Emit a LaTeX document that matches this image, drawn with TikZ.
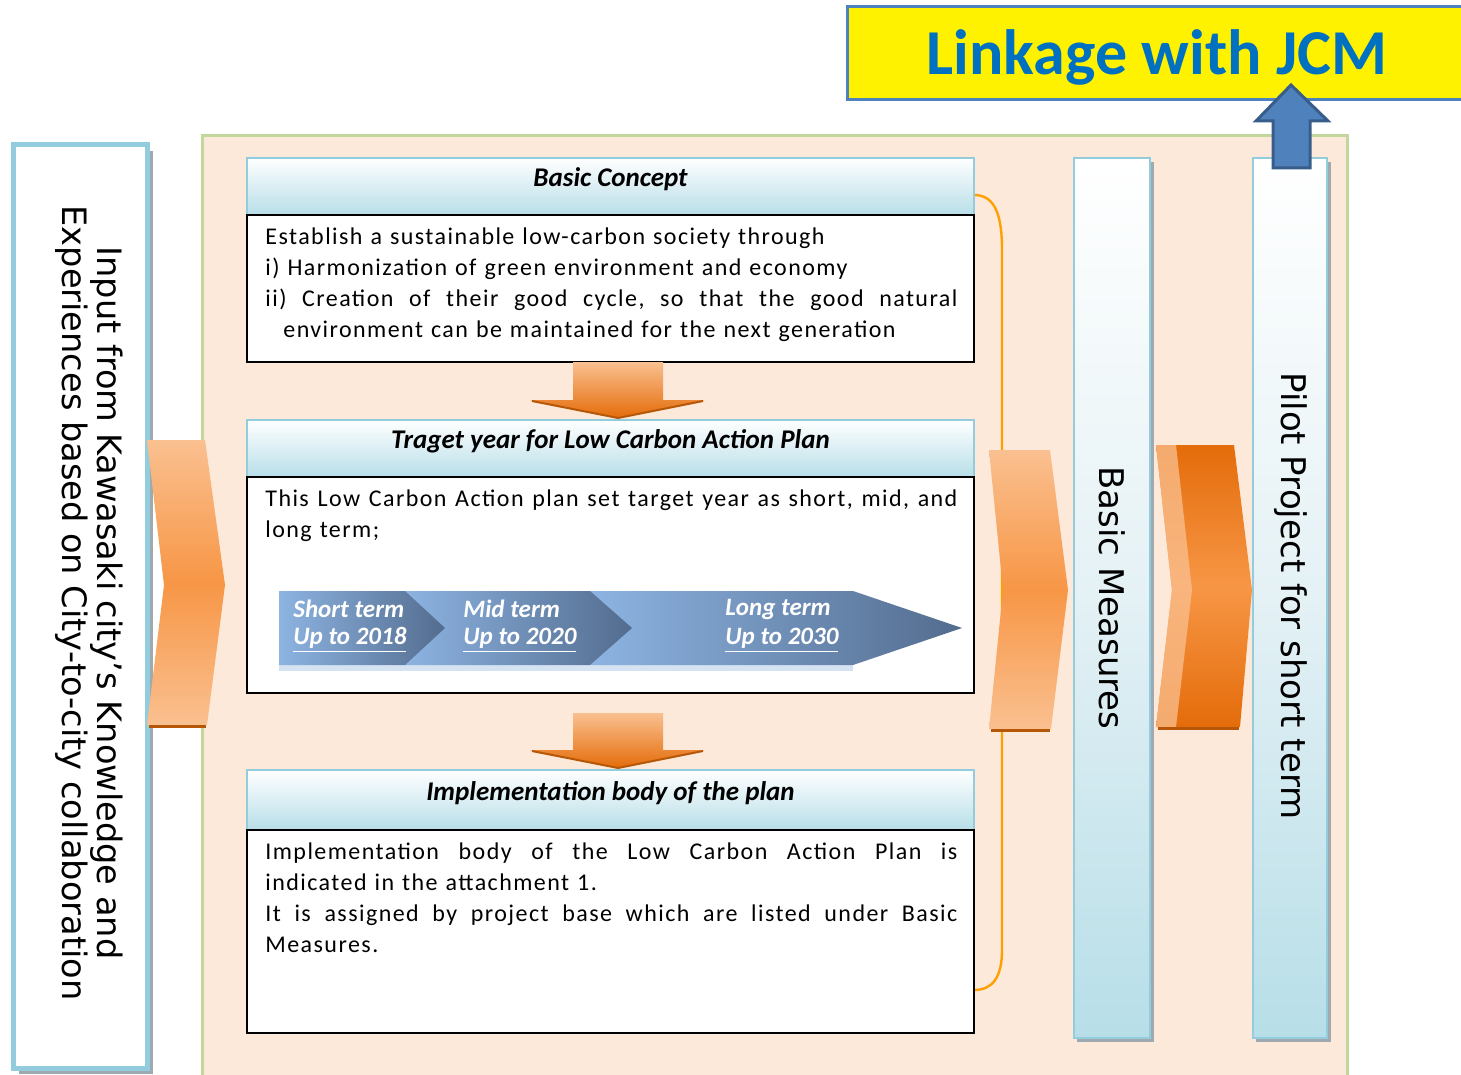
\documentclass[tikz,border=0pt]{standalone}
\usepackage{fontspec}
\setmainfont{Carlito}
\newfontfamily\dvsans{DejaVu Sans}
\newfontfamily\bodyfont[LetterSpace=6]{Carlito}
\usetikzlibrary{fit,calc}
\definecolor{peach}{HTML}{FDE9D9}
\definecolor{panelgreen}{HTML}{C3D69B}
\definecolor{lblue}{HTML}{93CDDD}
\definecolor{hblue}{HTML}{B7DEE8}
\definecolor{cmid}{HTML}{E4F1F5}
\definecolor{jcmblue}{HTML}{0070C0}
\definecolor{arrblue}{HTML}{4F81BD}
\definecolor{arrblued}{HTML}{385D8A}
\definecolor{orA}{HTML}{FAC090}
\definecolor{orB}{HTML}{F79646}
\definecolor{orC}{HTML}{E46C0A}
\definecolor{orD}{HTML}{B65708}
\definecolor{brk}{HTML}{FFA000}
\definecolor{tlA}{HTML}{8DB4E2}
\definecolor{tlB}{HTML}{536C8E}
\definecolor{tlC}{HTML}{D5E2F2}
\definecolor{shad}{HTML}{9EAAB0}
\newcommand{\spreadln}[1]{\makebox[346pt][l]{#1}}
\tikzset{
  hdr/.style={draw=lblue, line width=1pt, top color=white, bottom color=hblue, inner sep=0pt},
  bodybox/.style={draw=black, line width=1pt, fill=white, inner sep=0pt},
  hdrtext/.style={font=\fontsize{13.5}{16}\selectfont\bfseries\itshape, inner sep=0pt},
  bodytext/.style={font=\bodyfont\fontsize{12}{15.5}\selectfont, text width=346pt, align=left, inner sep=0pt, anchor=north west},
  colbox/.style={draw=lblue, line width=1pt, top color=white, bottom color=hblue, middle color=cmid, inner sep=0pt},
  rottext/.style={rotate=-90, align=center, inner sep=0pt},
  bigchev/.style={top color=orA, bottom color=orA, middle color=orB},
  downarr/.style={top color=orA, bottom color=orC},
  tlseg/.style={left color=tlA, right color=tlB},
  tltext/.style={font=\fontsize{12.5}{14}\selectfont\bfseries\itshape, text=white, anchor=west, inner sep=0pt},
  bracket/.style={draw=brk, line width=1.2pt}
}
\begin{document}
\begin{tikzpicture}[x=0.5pt,y=-0.5pt]
\useasboundingbox (0,0) rectangle (1461,1075);
% main peach panel
\node[fit={(202,136)(1347,1082)}, fill=peach, draw=panelgreen, line width=1.5pt, inner sep=0pt] (panel) {};
% left box
\fill[shad] (19,151) rectangle (153,1074);
\node[fit={(13,145)(147,1068)}, fill=white, draw=lblue, line width=2.5pt, inner sep=0pt] (leftbox) {};
\node[rottext, font=\dvsans\fontsize{16.8}{17.5}\selectfont] (lefttext) at (89,603)
  {Input from Kawasaki city’s Knowledge and\\Experiences based on City-to-city collaboration};
% left chevron
\path[bigchev] (147,440) -- (205,440) -- (225,585) -- (207,725) -- (147,725) -- (164,585) -- cycle;
\draw[orD, line width=1.5pt] (149,726) -- (206,726);
% orange bracket
\coordinate (bt) at (974,195);
\coordinate (bb) at (974,990);
\draw[bracket] (bt) .. controls (995,195) and (1002,215) .. (1002,250) -- (1002,950) .. controls (1002,978) and (992,990) .. (bb);
% Basic Concept
\node[hdr, fit={(247,158)(974,215)}] (h1) {};
\node[hdrtext] (h1t) at ($(h1.center)+(0,-7)$) {Basic Concept};
\node[bodybox, fit={(247,215)(974,362)}] (b1) {};
\node[bodytext] (b1t) at (265,227) {Establish a sustainable low-carbon society through\\
i) Harmonization of green environment and economy\\
\spreadln{ii)\hfill Creation\hfill of\hfill their\hfill good\hfill cycle,\hfill so\hfill that\hfill the\hfill good\hfill natural}\\
\hspace*{9pt}environment can be maintained for the next generation};
% down arrow 1
\path[downarr] (573,362) -- (663,362) -- (663,400) -- (705,400) -- (618,418) -- (530,400) -- (573,400) -- cycle;
\draw[orD, line width=1pt] (532,401) -- (618,418) -- (703,401);
% Target year
\node[hdr, fit={(247,420)(974,477)}] (h2) {};
\node[hdrtext] (h2t) at ($(h2.center)+(0,-7)$) {Traget year for Low Carbon Action Plan};
\node[bodybox, fit={(247,477)(974,693)}] (b2) {};
\node[bodytext] (b2t) at (265,489) {\spreadln{This\hfill Low\hfill Carbon\hfill Action\hfill plan\hfill set\hfill target\hfill year\hfill as\hfill short,\hfill mid,\hfill and}\\
long term;};
% timeline
\fill[tlC] (279,664) rectangle (853,671);
\path[tlseg] (590,591) -- (853,591) -- (962,628) -- (853,665) -- (590,665) -- cycle;
\path[tlseg] (405,591) -- (590,591) -- (632,628) -- (590,665) -- (405,665) -- cycle;
\path[tlseg] (279,591) -- (405,591) -- (445,628) -- (405,665) -- (279,665) -- cycle;
\node[tltext] (s1) at (293,609) {Short term};
\node[tltext] (s2) at (293,640) {\underline{Up to 2018}};
\node[tltext] (m1) at (463,609) {Mid term};
\node[tltext] (m2) at (463,640) {\underline{Up to 2020}};
\node[tltext] (l1) at (725,609) {Long term};
\node[tltext] (l2) at (725,640) {\underline{Up to 2030}};
% down arrow 2
\path[downarr] (573,713) -- (663,713) -- (663,750) -- (705,750) -- (618,768) -- (530,750) -- (573,750) -- cycle;
\draw[orD, line width=1pt] (532,751) -- (618,768) -- (703,751);
% Implementation
\node[hdr, fit={(247,770)(974,830)}] (h3) {};
\node[hdrtext] (h3t) at ($(h3.center)+(0,-7)$) {Implementation body of the plan};
\node[bodybox, fit={(247,830)(974,1033)}] (b3) {};
\node[bodytext] (b3t) at (265,842) {\spreadln{Implementation\hfill body\hfill of\hfill the\hfill Low\hfill Carbon\hfill Action\hfill Plan\hfill is}\\
indicated in the attachment 1.\\
\spreadln{It\hfill is\hfill assigned\hfill by\hfill project\hfill base\hfill which\hfill are\hfill listed\hfill under\hfill Basic}\\
Measures.};
% right chevron 1
\path[bigchev] (989,450) -- (1050,450) -- (1068,590) -- (1051,729) -- (989,729) -- (1003,590) -- cycle;
\draw[orD, line width=1.5pt] (991,730) -- (1050,730);
% Basic Measures column
\fill[shad] (1077,162) rectangle (1154,1042);
\node[colbox, fit={(1074,158)(1150,1038)}] (bm) {};
\node[rottext, font=\dvsans\fontsize{17}{20}\selectfont] (bmt) at (1112,598) {Basic Measures};
% right chevron 2
\path[top color=orC, bottom color=orC, middle color=orB] (1156,445) -- (1234,445) -- (1252,590) -- (1240,727) -- (1156,727) -- (1172,590) -- cycle;
\path[fill=orA, opacity=0.75] (1156,445) -- (1176,445) -- (1192,590) -- (1176,727) -- (1156,727) -- (1172,590) -- cycle;
\draw[orD, line width=1.5pt] (1158,728) -- (1239,728);
% Pilot column
\fill[shad] (1256,162) rectangle (1331,1042);
\node[colbox, fit={(1253,158)(1327,1038)}] (pp) {};
\node[rottext, font=\dvsans\fontsize{17}{20}\selectfont] (ppt) at (1291,596) {Pilot Project for short term};
% JCM box
\node[fit={(847,7)(1468,100)}, fill=yellow, draw=arrblue, line width=1.5pt, inner sep=0pt] (jcm) {};
\node[font=\fontsize{32}{36}\selectfont\bfseries, text=jcmblue, inner sep=0pt] (jcmt) at (1157,57) {Linkage with JCM};
% blue up arrow
\coordinate (uptip) at (1291,85);
\path[fill=arrblue, draw=arrblued, line width=1.5pt] (1273,168) -- (1273,121) -- (1256,121) -- (uptip) -- (1328,121) -- (1310,121) -- (1310,168) -- cycle;
\end{tikzpicture}
\end{document}
